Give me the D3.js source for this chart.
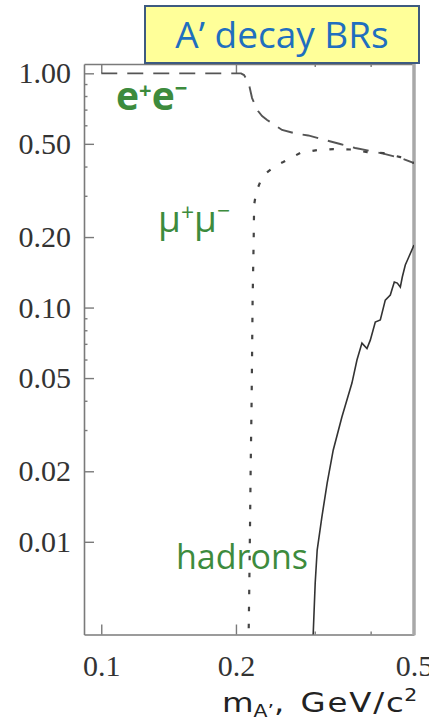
<!DOCTYPE html>
<html><head><meta charset="utf-8">
<script src="https://cdn.jsdelivr.net/npm/d3@7/dist/d3.min.js"></script>
<style>body{margin:0;background:#fff;} svg{display:block}</style>
</head><body>
<svg id="c" width="429" height="724"></svg>
<script>
// ---- data ----
const massEE = [0.1, 0.2053, 0.2085, 0.2118, 0.214, 0.2173, 0.2207, 0.2241, 0.2288, 0.2348, 0.2446, 0.2536, 0.2713, 0.2901, 0.3166, 0.342, 0.3694, 0.3993, 0.4313, 0.466, 0.5];
const brEE   = [1.0, 1.0, 0.983, 0.936, 0.892, 0.784, 0.732, 0.690, 0.657, 0.632, 0.601, 0.573, 0.554, 0.543, 0.519, 0.499, 0.480, 0.466, 0.452, 0.435, 0.414];

const massMuMu = [0.2129, 0.2135, 0.2143, 0.2151, 0.2157, 0.2168, 0.2179, 0.2191, 0.2196, 0.2219, 0.2265, 0.2336, 0.2446, 0.255, 0.2783, 0.3038, 0.3299, 0.3601, 0.3931, 0.4268, 0.466, 0.5];
const brMuMu   = [0.00362, 0.00403, 0.00686, 0.01238, 0.0202, 0.0403, 0.1076, 0.194, 0.274, 0.311, 0.343, 0.375, 0.402, 0.418, 0.457, 0.470, 0.475, 0.473, 0.461, 0.457, 0.439, 0.414];

const massHad = [0.2969, 0.2977, 0.3007, 0.3038, 0.3112, 0.3198, 0.3299, 0.345, 0.3633, 0.3728, 0.3825, 0.3925, 0.3993, 0.4097, 0.4204, 0.4313, 0.4426, 0.4518, 0.4588, 0.466, 0.4708, 0.4781, 0.4868, 0.5];
const brHad   = [0.0038, 0.00408, 0.00666, 0.00922, 0.01275, 0.0178, 0.0246, 0.0341, 0.0476, 0.0597, 0.0705, 0.0668, 0.0726, 0.0867, 0.0885, 0.1076, 0.1131, 0.1285, 0.1272, 0.1223, 0.135, 0.1519, 0.1643, 0.1849];

const xMajorTicks = [0.1, 0.2, 0.5];
const xMajorLabels = ["0.1", "0.2", "0.5"];
const xMinorTicks = [0.3, 0.4];
const yMajorTicks = [1, 0.5, 0.2, 0.1, 0.05, 0.02, 0.01];
const yMajorLabels = ["1.00", "0.50", "0.20", "0.10", "0.05", "0.02", "0.01"];
const yMinorTicks = [0.9, 0.8, 0.7, 0.6, 0.4, 0.3, 0.09, 0.08, 0.07, 0.06, 0.04, 0.03];

const titleText = "A\u2019 decay BRs";

// ---- layout ----
const L = 84, R = 414, T = 64, B = 634.5;
const svg = d3.select("#c");

const x = d3.scaleLog().domain([0.0915, 0.5]).range([L, R]);
const y = d3.scaleLog().domain([0.00402, 1.096]).range([B, T]);

svg.append("defs").append("clipPath").attr("id", "plotclip")
  .append("rect").attr("x", L).attr("y", T).attr("width", R - L).attr("height", B - T);

const axisColor = "#7a7a7a";
const labelFont = "'Liberation Serif', 'Times New Roman', serif";

// left axis
const yAxis = d3.axisLeft(y).tickValues(yMajorTicks)
  .tickFormat((d, i) => yMajorLabels[i]).tickSizeInner(-10).tickSizeOuter(0).tickPadding(13);
const gy = svg.append("g").attr("transform", `translate(${L},0)`).call(yAxis);
gy.select(".domain").attr("stroke", axisColor).attr("stroke-width", 1.6);
gy.selectAll(".tick line").attr("stroke", axisColor).attr("stroke-width", 1.4);
gy.selectAll(".tick text").attr("font-family", labelFont).attr("font-size", 30).attr("fill", "#333");

// left minor ticks
const yAxisMinor = d3.axisLeft(y).tickValues(yMinorTicks).tickFormat("").tickSizeInner(-3.5).tickSizeOuter(0);
const gym = svg.append("g").attr("transform", `translate(${L},0)`).call(yAxisMinor);
gym.select(".domain").remove();
gym.selectAll(".tick line").attr("stroke", axisColor).attr("stroke-width", 1.4);

// bottom axis
const xAxis = d3.axisBottom(x).tickValues(xMajorTicks)
  .tickFormat((d, i) => xMajorLabels[i]).tickSizeInner(-10).tickSizeOuter(0).tickPadding(20);
const gx = svg.append("g").attr("transform", `translate(0,${B})`).call(xAxis);
gx.select(".domain").attr("stroke", axisColor).attr("stroke-width", 1.6);
gx.selectAll(".tick line").attr("stroke", axisColor).attr("stroke-width", 1.4);
gx.selectAll(".tick text").attr("font-family", labelFont).attr("font-size", 30).attr("fill", "#333");
gx.selectAll(".tick").filter(d => d === 0.5).select("line").remove();

const xAxisMinor = d3.axisBottom(x).tickValues(xMinorTicks).tickFormat("").tickSizeInner(-3).tickSizeOuter(0);
const gxm = svg.append("g").attr("transform", `translate(0,${B})`).call(xAxisMinor);
gxm.select(".domain").remove();
gxm.selectAll(".tick line").attr("stroke", axisColor).attr("stroke-width", 1.4);

// top axis (ticks only, pointing down)
const xTop = d3.axisTop(x).tickValues([0.1, 0.2]).tickFormat("").tickSizeInner(-9).tickSizeOuter(0);
const gt = svg.append("g").attr("transform", `translate(0,${T})`).call(xTop);
gt.select(".domain").attr("stroke", axisColor).attr("stroke-width", 1.6);
gt.selectAll(".tick line").attr("stroke", axisColor).attr("stroke-width", 1.4);
const xTopMinor = d3.axisTop(x).tickValues(xMinorTicks).tickFormat("").tickSizeInner(-3).tickSizeOuter(0);
const gtm = svg.append("g").attr("transform", `translate(0,${T})`).call(xTopMinor);
gtm.select(".domain").remove();
gtm.selectAll(".tick line").attr("stroke", axisColor).attr("stroke-width", 1.4);

// right frame line
svg.append("line").attr("x1", R).attr("x2", R).attr("y1", T).attr("y2", B + 0.8)
  .attr("stroke", "#a8a8a8").attr("stroke-width", 3.5);

// curves
const line = d3.line().x(d => x(d[0])).y(d => y(d[1]));
const gc = svg.append("g").attr("clip-path", "url(#plotclip)");

gc.append("path").datum(d3.zip(massEE, brEE)).attr("d", line)
  .attr("fill", "none").attr("stroke", "#555").attr("stroke-width", 1.9)
  .attr("stroke-dasharray", "16,10");
gc.append("path").datum(d3.zip(massMuMu, brMuMu)).attr("d", line)
  .attr("fill", "none").attr("stroke", "#444").attr("stroke-width", 2.2)
  .attr("stroke-dasharray", "4.5,12.5");
gc.append("path").datum(d3.zip(massHad, brHad)).attr("d", line)
  .attr("fill", "none").attr("stroke", "#333").attr("stroke-width", 1.6);

// title box
svg.append("rect").attr("x", 145).attr("y", 6).attr("width", 274).attr("height", 57)
  .attr("fill", "#ffff99").attr("stroke", "#3d5a80").attr("stroke-width", 2);
svg.append("text").attr("x", 282).attr("y", 48).attr("text-anchor", "middle")
  .attr("font-family", "'Open Sans', sans-serif").attr("font-size", 37)
  .attr("fill", "#1f6fbf").text(titleText);

// channel labels
const green = "#3d8b3d";
const sans = "'Open Sans', sans-serif";
const ee = svg.append("text").attr("x", 116).attr("y", 110).attr("font-family", sans)
  .attr("font-size", 39).attr("font-weight", 700).attr("fill", green);
ee.append("tspan").text("e");
ee.append("tspan").attr("font-size", 22).attr("dy", -12).text("+");
ee.append("tspan").attr("dy", 12).text("e");
ee.append("tspan").attr("font-size", 22).attr("dy", -14).text("\u2212");

const mm = svg.append("text").attr("x", 158).attr("y", 232).attr("font-family", sans)
  .attr("font-size", 37).attr("fill", green);
mm.append("tspan").text("\u03bc");
mm.append("tspan").attr("font-size", 23).attr("dy", -11).text("+");
mm.append("tspan").attr("dy", 11).text("\u03bc");
mm.append("tspan").attr("font-size", 23).attr("dy", -13).text("\u2212");

svg.append("text").attr("x", 176).attr("y", 569).attr("font-family", sans)
  .attr("font-size", 34).attr("fill", green).text("hadrons");

// x-axis title (glyphs in the reference are horizontally wide, so scale x)
const xt = svg.append("text").attr("transform", "translate(222,712) scale(1.2,1)")
  .attr("font-family", "'DejaVu Sans', sans-serif").attr("font-size", 27).attr("fill", "#222");
xt.append("tspan").text("m");
xt.append("tspan").attr("font-size", 17).attr("dy", 5).text("A\u2019");
xt.append("tspan").attr("dy", -5).text(",");
xt.append("tspan").attr("x", 65.5).attr("letter-spacing", 1.5).text("GeV/c");
xt.append("tspan").attr("font-size", 17).attr("dx", -1).attr("dy", -11).text("2");
</script>
</body></html>
